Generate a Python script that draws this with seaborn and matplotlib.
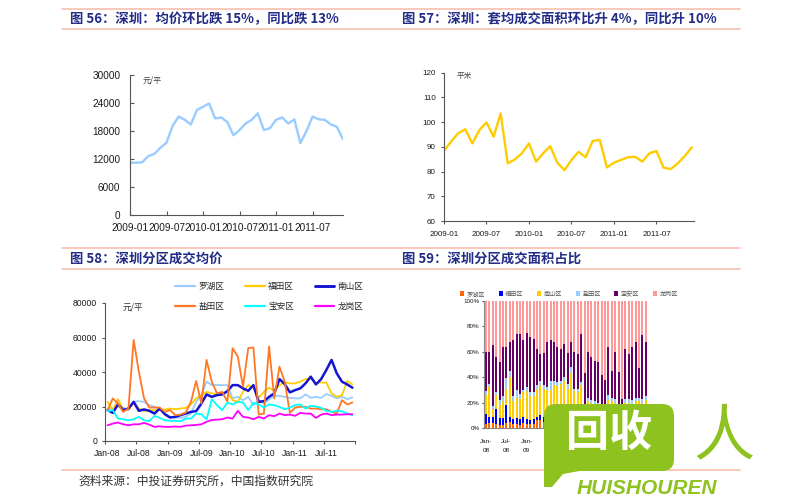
import numpy as np
import pandas as pd
import matplotlib
matplotlib.use("Agg")
import matplotlib.pyplot as plt
import seaborn as sns
from matplotlib.lines import Line2D
from matplotlib.patches import Patch, FancyBboxPatch, Polygon

sns.set_theme(style="white")
plt.rcParams['font.family'] = ['Liberation Sans', 'Noto Sans CJK SC', 'DejaVu Sans']
plt.rcParams['axes.unicode_minus'] = False
CJK = ['Noto Sans CJK SC', 'DejaVu Sans']

# ---------------- data ----------------
# Fig 56: Shenzhen average price (yuan/m2), 2009-01 .. 2011-12
price_sz = [11200, 11200, 11300, 12600, 13100, 14400, 15500, 19100, 21100, 20400,
            19400, 22500, 23200, 23900, 20700, 20900, 19900, 17100, 18200, 19600,
            20400, 21800, 18200, 18600, 20400, 20900, 19600, 20500, 15400, 18000,
            21100, 20500, 20400, 19400, 18900, 16200]
# Fig 57: average area per unit (m2)
area_sz = [88.4, 92.1, 95.5, 97.1, 91.4, 96.8, 99.9, 94.1, 103.5, 83.3,
           84.9, 87.4, 91.4, 84.0, 87.4, 90.3, 83.6, 80.6, 84.7, 88.0,
           85.8, 92.4, 92.8, 81.7, 83.6, 84.7, 85.8, 86.0, 84.0, 87.4,
           88.3, 81.6, 81.0, 83.3, 86.3, 89.8]
top_ticklabels = ['2009-01', '2009-07', '2010-01', '2010-07', '2011-01', '2011-07']

# Fig 58: district average prices, Jan-08 .. Dec-11
districts = ['罗湖区', '福田区', '南山区', '盐田区', '宝安区', '龙岗区']
luohu_p = [18800, 18800, 20400, 19400, 17900, 22700, 23100, 22700, 20800, 19800,
           18800, 15900, 14000, 13600, 13400, 14000, 15900, 22700, 26600, 34400,
           32400, 32400, 32400, 32400, 24700, 25600, 23700, 25600, 20800, 23700,
           21700, 24100, 26200, 26200, 25600, 25000, 24700, 24700, 27000, 25000,
           25600, 25000, 27200, 26200, 24700, 25600, 24300, 25200]
futian_p = [22700, 17900, 24300, 17900, 18300, 21700, 18800, 17300, 17900, 17900,
            17900, 18300, 18800, 18400, 18800, 19200, 21200, 24700, 26600, 28500,
            27600, 27000, 27400, 28500, 23700, 22700, 28500, 32400, 30900, 25000,
            28500, 30900, 29100, 32400, 34000, 33400, 33400, 34400, 35900, 36300,
            33400, 34000, 33800, 27600, 25600, 26600, 34800, 32800]
nanshan_p = [17900, 16300, 21200, 17900, 18800, 22700, 17500, 18300, 17500, 15900,
             18800, 15500, 13600, 14000, 15000, 15900, 16900, 17300, 21700, 27000,
             25600, 26600, 27000, 28900, 32400, 32400, 30500, 29100, 32400, 22700,
             23100, 25600, 27600, 35900, 33000, 28200, 29500, 30500, 33400, 37300,
             32800, 35900, 41200, 47000, 39200, 34400, 32800, 30900]
yantian_p = [17900, 24700, 21700, 16900, 18800, 58600, 40200, 24700, 19400, 19400,
             19400, 16900, 17900, 15000, 15300, 16500, 22700, 34800, 21800, 47000,
             34400, 27600, 28500, 22700, 53800, 48900, 31500, 53800, 54200, 15300,
             15900, 54800, 24700, 43100, 34400, 16300, 19400, 19800, 19800, 18800,
             18800, 18400, 18400, 16900, 15900, 23700, 21200, 22300]
baoan_p = [17300, 17900, 13000, 12600, 12000, 12600, 14000, 12000, 11500, 14600,
           13400, 12000, 11700, 11700, 11500, 13000, 13000, 15900, 15500, 12600,
           24100, 20800, 17900, 22300, 21200, 22700, 22300, 17900, 22100, 21200,
           19400, 21200, 20800, 19800, 18400, 19400, 20800, 21200, 18800, 20400,
           20000, 19200, 17500, 16900, 17500, 17300, 15900, 15000]
longgang_p = [9100, 10100, 10700, 9700, 9100, 9700, 9700, 10500, 9500, 8200,
              8500, 8200, 8200, 8400, 8200, 8900, 9100, 9300, 9700, 11100,
              12200, 12400, 12600, 13600, 13000, 17500, 14000, 13600, 12600, 14000,
              13000, 15000, 14400, 15900, 15000, 15300, 14600, 16300, 15900, 15900,
              13400, 15300, 15900, 15000, 15300, 15300, 15500, 15500]
bottom_ticklabels = ['Jan-08', 'Jul-08', 'Jan-09', 'Jul-09', 'Jan-10', 'Jul-10', 'Jan-11', 'Jul-11']
# labels of fig 59 that are not hidden by the watermark
share_ticklabels = ['Jan-\n08', 'Jul-\n08', 'Jan-\n09']

# Fig 59: district share of transacted area (%)
luohu_s = [3, 4, 4, 3, 2, 2, 4, 5, 3, 3, 2, 4, 3, 3, 3, 6, 6, 5, 5, 5, 5, 4, 4, 4,
           4, 4, 4, 4, 4, 3, 3, 3, 3, 3, 3, 3, 3, 3, 3, 3, 3, 3, 3, 3, 3, 3, 3, 3]
futian_s = [8, 5, 5, 12, 6, 6, 14, 4, 4, 5, 5, 5, 4, 3, 4, 3, 4, 4, 3, 3, 3, 3, 3, 3,
            3, 3, 3, 3, 3, 3, 3, 3, 3, 3, 3, 3, 3, 3, 3, 3, 3, 3, 3, 3, 3, 3, 3, 3]
nanshan_s = [15, 24, 6, 11, 10, 13, 13, 31, 14, 16, 16, 19, 22, 19, 18, 22, 24, 22, 22, 22, 26, 26, 28, 30,
             24, 36, 22, 21, 27, 10, 15, 14, 13, 12, 9, 8, 16, 15, 14, 10, 6, 14, 14, 13, 15, 15, 14, 16]
yantian_s = [3, 2, 2, 2, 4, 4, 8, 5, 4, 6, 4, 2, 3, 3, 3, 3, 3, 3, 2, 7, 3, 3, 2, 3,
             4, 5, 2, 3, 2, 2, 3, 2, 2, 2, 2, 2, 4, 3, 3, 2, 2, 3, 3, 3, 3, 3, 3, 3]
baoan_s = [31, 25, 48, 28, 30, 39, 25, 23, 44, 44, 47, 39, 43, 44, 42, 28, 21, 25, 36, 32, 31, 28, 25, 26,
           24, 20, 29, 27, 38, 25, 36, 34, 32, 32, 25, 22, 38, 21, 37, 26, 9, 39, 35, 42, 44, 23, 50, 43]
longgang_s = [40, 40, 35, 44, 48, 36, 36, 32, 31, 26, 26, 31, 25, 28, 30, 38, 42, 41, 32, 31, 32, 36, 38, 34,
              41, 32, 40, 42, 26, 57, 40, 44, 47, 48, 58, 62, 36, 55, 40, 56, 77, 38, 42, 36, 32, 53, 27, 32]

# ---------------- style ----------------
NAVY = '#232C86'
PINK_LINE = '#F9C5B5'
GREEN = '#8DC21F'
SPINE = '#555555'

fig = plt.figure(figsize=(8, 5), dpi=100)
fig.patch.set_facecolor('white')


def fy(py):
    return 1 - py / 500.0


def fx(px):
    return px / 800.0


for py in (9, 29, 248, 269, 470):
    fig.add_artist(Line2D([fx(62), fx(740)], [fy(py), fy(py)], transform=fig.transFigure,
                          color=PINK_LINE, lw=1.3))

titles = [(70, 19, '图 56：深圳：均价环比跌 15%，同比跌 13%'),
          (402, 19, '图 57：深圳：套均成交面积环比升 4%，同比升 10%'),
          (70, 259, '图 58：深圳分区成交均价'),
          (402, 259, '图 59：深圳分区成交面积占比')]
for x, y, t in titles:
    fig.text(fx(x), fy(y), t, fontsize=9.6, fontweight='bold', color=NAVY,
             ha='left', va='center', family=CJK)

fig.text(fx(78), fy(481), '资料来源：中投证券研究所，中国指数研究院', fontsize=8.5,
         color='#333333', ha='left', va='center', family=CJK)


def style_axes(ax, lsize, direction, pad, length=3):
    ax.set_facecolor('white')
    for s in ('top', 'right'):
        ax.spines[s].set_visible(False)
    for s in ('left', 'bottom'):
        ax.spines[s].set_color(SPINE)
        ax.spines[s].set_linewidth(0.8)
    ax.tick_params(axis='both', direction=direction, length=length, width=0.8,
                   color=SPINE, labelsize=lsize, labelcolor='#1a1a1a', pad=pad,
                   left=True, bottom=True)
    ax.set_xlabel('')
    ax.set_ylabel('')


# ---------- panel 1 ----------
ax1 = fig.add_axes([fx(130), fy(215), fx(213), 140 / 500])
sns.lineplot(x=np.arange(len(price_sz)), y=price_sz, ax=ax1, color='#99CCFF', linewidth=1.7)
ax1.set_xlim(0, 35)
ax1.set_ylim(0, 30000)
ax1.set_yticks(np.arange(0, 30001, 6000))
ax1.set_xticks(np.arange(0, 36, 6))
ax1.set_xticklabels(top_ticklabels)
style_axes(ax1, 7.2, 'in', 7)
ax1.tick_params(axis='x', pad=6)
ax1.text(0.06, 0.965, '元/平', transform=ax1.transAxes, fontsize=5.8, color='#444444',
         ha='left', va='center', family=CJK)

# ---------- panel 2 ----------
ax2 = fig.add_axes([fx(444), fy(221), fx(250), 148.3 / 500])
sns.lineplot(x=np.arange(len(area_sz)), y=area_sz, ax=ax2, color='#FFCC00', linewidth=1.7)
ax2.set_xlim(0, 35.3)
ax2.set_ylim(60, 120)
ax2.set_yticks(np.arange(60, 121, 10))
ax2.set_xticks(np.arange(0, 36, 6))
ax2.set_xticklabels(top_ticklabels)
style_axes(ax2, 5.8, 'out', 4, length=2)
ax2.tick_params(axis='x', pad=5)
ax2.text(0.052, 0.975, '平米', transform=ax2.transAxes, fontsize=5.5, color='#444444',
         ha='left', va='center', family=CJK)

# ---------- panel 3 ----------
ax3 = fig.add_axes([fx(105), fy(441), fx(250), 138 / 500])
series3 = [(luohu_p, '#99CCFF', 1.3), (futian_p, '#FFCC00', 1.3), (nanshan_p, '#1414D2', 1.8),
           (yantian_p, '#FF7722', 1.3), (baoan_p, '#00FFFF', 1.3), (longgang_p, '#FF00FF', 1.3)]
idx48 = np.arange(48)
handles = []
for (vals, col, lw), name in zip(series3, districts):
    sns.lineplot(x=idx48, y=vals, ax=ax3, color=col, linewidth=lw)
    handles.append(Line2D([], [], color=col, lw=lw + 0.3, label=name))
ax3.set_xlim(-0.5, 47.5)
ax3.set_ylim(0, 80000)
ax3.set_yticks(np.arange(0, 80001, 20000))
ax3.set_xticks(np.arange(-0.5, 48, 6), minor=False)
ax3.set_xticklabels([])
ax3.set_xticks(np.arange(0, 48, 6), minor=True)
ax3.set_xticklabels(bottom_ticklabels, minor=True)
style_axes(ax3, 6.2, 'out', 3, length=2.5)
ax3.tick_params(axis='x', which='minor', length=0, labelsize=6.2, pad=6, labelcolor='#1a1a1a')
ax3.text(0.072, 0.97, '元/平', transform=ax3.transAxes, fontsize=6.2, color='#333333',
         ha='left', va='center', family=CJK)
order = [0, 3, 1, 4, 2, 5]
ax3.legend([handles[i] for i in order], [districts[i] for i in order], ncol=3,
           loc='upper left', bbox_to_anchor=(fx(175), fy(282)), bbox_transform=fig.transFigure,
           frameon=False, prop={'family': CJK, 'size': 6.2}, handlelength=2.3,
           handletextpad=0.4, columnspacing=2.4, labelspacing=1.25, borderpad=0, borderaxespad=0)

# ---------- panel 4 ----------
ax4 = fig.add_axes([fx(484.3), fy(428), fx(163.2), 127 / 500])
shares = [luohu_s, futian_s, nanshan_s, yantian_s, baoan_s, longgang_s]
colors4 = ['#FF6600', '#0000FF', '#FFCC00', '#99CCFF', '#660066', '#FF9999']
cum = np.cumsum(np.array(shares, dtype=float), axis=0)
for k in range(5, -1, -1):
    sns.barplot(x=idx48, y=cum[k], ax=ax4, color=colors4[k], width=0.6, saturation=1,
                errorbar=None, linewidth=0)
ax4.set_xlim(-0.5, 47.5)
ax4.set_ylim(0, 100)
ax4.set_yticks(np.arange(0, 101, 20))
ax4.set_yticklabels([f'{v}%' for v in range(0, 101, 20)])
ax4.set_xticks(np.arange(0, 6 * len(share_ticklabels), 6))
ax4.set_xticklabels(share_ticklabels, linespacing=2.0)
style_axes(ax4, 4.5, 'out', 2, length=1.5)
ax4.tick_params(axis='x', length=0, pad=8, labelsize=4.6)
ax4.spines['left'].set_color('#888888')
ax4.spines['bottom'].set_color('#888888')
phandles = [Patch(facecolor=c, edgecolor='none') for c in colors4]
ax4.legend(phandles, districts, ncol=6, loc='upper left',
           bbox_to_anchor=(fx(460), fy(290)), bbox_transform=fig.transFigure,
           frameon=False, prop={'family': CJK, 'size': 4.4}, handlelength=0.7, handleheight=0.9,
           handletextpad=0.4, columnspacing=2.2, borderpad=0, borderaxespad=0)
for t in ax4.get_legend().get_texts():
    t.set_color('#555555')

# ---------- watermark ----------
T = fig.dpi_scale_trans


def inch(px, py):
    return (px / 100.0, (500 - py) / 100.0)


box = FancyBboxPatch(inch(544, 471), 1.30, 0.67, boxstyle='round,pad=0,rounding_size=0.12',
                     transform=T, facecolor=GREEN, edgecolor='none', zorder=10)
fig.add_artist(box)
tail = Polygon([inch(544, 455), inch(544, 487), inch(552, 487), inch(563, 474), inch(585, 470),
                inch(585, 460)], closed=True, transform=T, facecolor=GREEN, edgecolor='none', zorder=10)
fig.add_artist(tail)
fig.text(fx(609), fy(433), '回收', color='white', fontsize=31, fontweight='bold', family=CJK,
         ha='center', va='center', zorder=11)
fig.text(fx(724), fy(437), '人', color=GREEN, fontsize=44, fontweight='normal', family=CJK,
         ha='center', va='center', zorder=11)
fig.text(fx(647), fy(488), 'HUISHOUREN', color=GREEN, fontsize=15, fontweight='bold',
         fontstyle='italic', ha='center', va='center', zorder=11)

fig.savefig('out.png', dpi=100, facecolor='white')
